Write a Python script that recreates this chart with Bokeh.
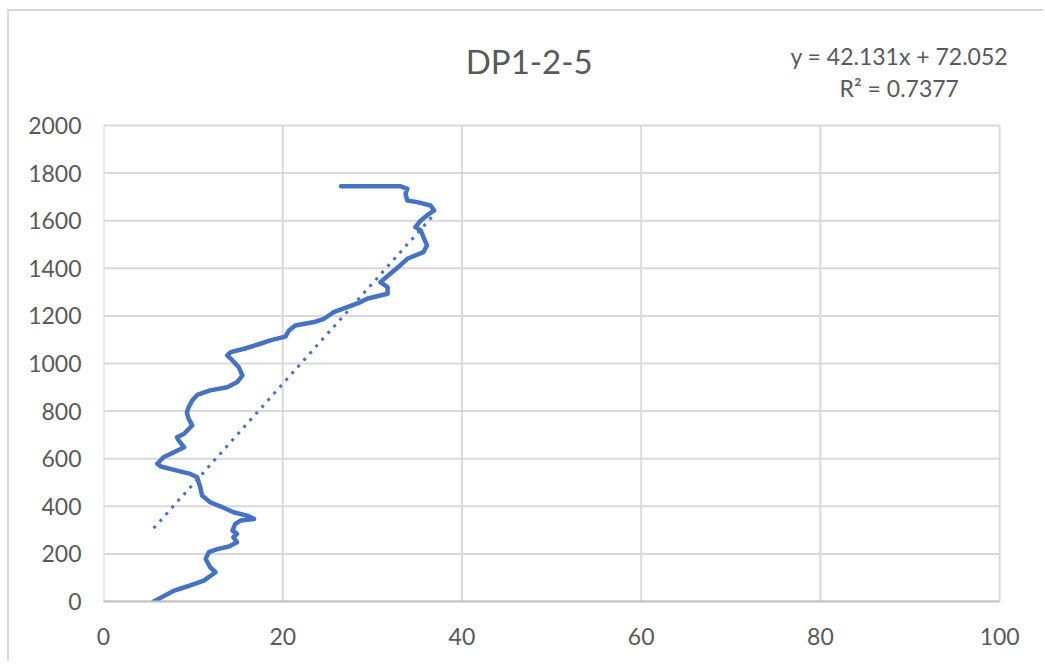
from bokeh.plotting import figure
from bokeh.models import Range1d, Label, FixedTicker
from bokeh.embed import file_html
from bokeh.resources import INLINE

title_text = "DP1-2-5"
slope = 42.131
intercept = 72.052
r2 = 0.7377

# traced series: x value vs depth
depth = [0, 46, 63, 88, 123, 144, 179, 207, 220, 231, 249, 270, 284, 298, 326, 340, 347, 361,
         375, 399, 417, 445, 480, 522, 536, 550, 567, 579, 606, 627, 648, 676, 690, 705, 740,
         768, 795, 816, 845, 868, 887, 900, 921, 950, 984, 1013, 1034, 1048, 1062, 1083, 1097,
         1113, 1139, 1160, 1174, 1188, 1216, 1237, 1258, 1272, 1293, 1321, 1342, 1377, 1412,
         1440, 1468, 1496, 1531, 1559, 1573, 1601, 1622, 1643, 1664, 1678, 1685, 1713, 1734,
         1745, 1745, 1745]
values = [5.6, 7.9, 9.3, 11.2, 12.5, 11.9, 11.4, 11.75, 12.7, 14.0, 14.9, 14.5, 14.9, 14.4,
          14.7, 15.3, 16.8, 16.0, 14.5, 13.1, 11.9, 11.0, 10.8, 10.45, 9.7, 8.2, 6.4, 6.0, 6.7,
          7.85, 9.0, 8.4, 8.2, 9.0, 9.9, 9.5, 9.3, 9.5, 9.9, 10.45, 11.9, 13.8, 14.9, 15.5, 15.1,
          14.4, 13.8, 14.2, 15.7, 17.5, 18.6, 20.3, 20.7, 21.4, 23.5, 24.6, 25.7, 27.2, 28.7,
          29.4, 31.7, 31.7, 30.9, 32.0, 33.1, 33.9, 35.7, 36.1, 35.7, 35.4, 34.8, 35.4, 36.1,
          36.9, 36.5, 35.0, 33.9, 33.7, 33.9, 33.1, 31.7, 26.5]

x_ticks = [0, 20, 40, 60, 80, 100]
y_ticks = [0, 200, 400, 600, 800, 1000, 1200, 1400, 1600, 1800, 2000]

FONT = "Lato"
TEXT_COLOR = "#595959"
GRID = "#d9d9d9"

x_lo, x_hi = x_ticks[0], x_ticks[-1]
y_lo, y_hi = y_ticks[0], y_ticks[-1]

p = figure(frame_width=932, frame_height=585, output_backend="svg", toolbar_location=None,
           x_range=Range1d(0, 104), y_range=Range1d(0, 2458),
           min_border_left=94, min_border_right=8, min_border_top=5, min_border_bottom=60)
p.styles = {"border-left": "2px solid #d9d9d9", "border-top": "2px solid #d9d9d9",
            "margin-left": "7px", "margin-top": "9px"}
p.outline_line_color = None
p.background_fill_color = "white"
p.border_fill_color = "white"
p.xgrid.visible = False
p.ygrid.visible = False

p.xaxis.ticker = FixedTicker(ticks=x_ticks)
p.yaxis.ticker = FixedTicker(ticks=y_ticks)
for ax in (p.xaxis, p.yaxis):
    ax.major_tick_line_color = None
    ax.minor_tick_line_color = None
    ax.major_tick_out = 0
    ax.major_tick_in = 0
    ax.major_label_text_font = FONT
    ax.major_label_text_font_size = "23px"
    ax.major_label_text_color = TEXT_COLOR
p.yaxis.axis_line_color = None
p.xaxis.axis_line_color = "#bfbfbf"
p.xaxis.axis_line_width = 2
p.xaxis.bounds = (x_lo, x_hi)
p.yaxis.bounds = (y_lo, y_hi)
p.yaxis.major_label_standoff = 22
p.xaxis.major_label_standoff = 26

# gridlines from the tick lists
p.segment(x0=x_ticks, y0=[y_lo] * len(x_ticks), x1=x_ticks, y1=[y_hi] * len(x_ticks),
          line_color=GRID, line_width=2)
p.segment(x0=[x_lo] * len(y_ticks), y0=y_ticks, x1=[x_hi] * len(y_ticks), y1=y_ticks,
          line_color=GRID, line_width=2)

p.line(values, depth, line_color="#4472C4", line_width=4.5, line_join="round", line_cap="round")

xmin, xmax = min(values), max(values)
p.line([xmin, xmax], [slope * xmin + intercept, slope * xmax + intercept],
       line_color="#4472C4", line_width=3, line_dash="3 6")

p.add_layout(Label(x=47.5, y=2272, text=title_text, text_font=FONT, text_font_size="33px",
                   text_color=TEXT_COLOR, text_align="center", text_baseline="alphabetic"))
p.add_layout(Label(x=88.8, y=2294, text=f"y = {slope}x + {intercept}", text_font=FONT,
                   text_font_size="23px", text_color=TEXT_COLOR, text_align="center",
                   text_baseline="alphabetic"))
p.add_layout(Label(x=88.8, y=2157, text=f"R\u00b2 = {r2}", text_font=FONT,
                   text_font_size="23px", text_color=TEXT_COLOR, text_align="center",
                   text_baseline="alphabetic"))

open("out.html", "w").write(file_html(p, INLINE))
